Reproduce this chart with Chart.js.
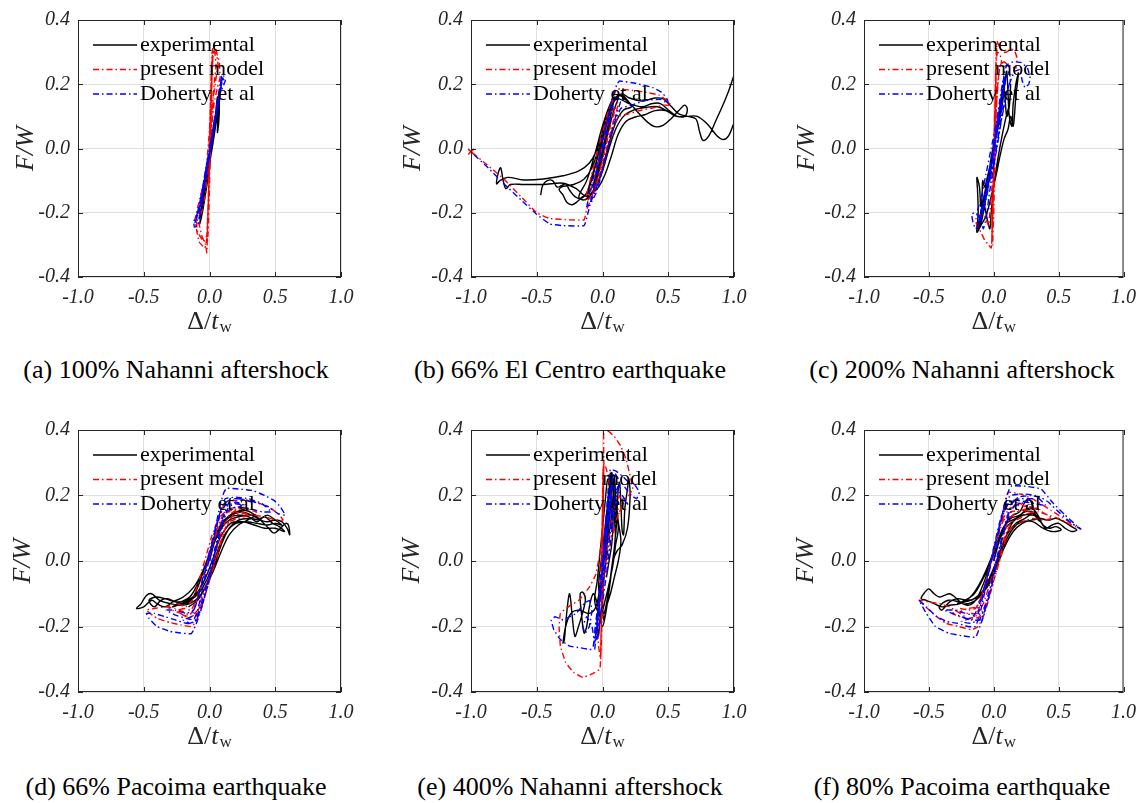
<!DOCTYPE html>
<html lang="en">
<head>
<meta charset="UTF-8">
<title>Hysteresis comparison</title>
<script src="https://cdn.jsdelivr.net/npm/chart.js"></script>
<style>
  body { margin: 0; background: #fff; width: 1145px; height: 803px; position: relative; overflow: hidden; }
  canvas { position: absolute; }
  .cap { position: absolute; width: 420px; text-align: center; font-family: "Liberation Serif", serif; font-size: 26px; line-height: 30px; color: #000; white-space: nowrap; }
</style>
</head>
<body>
<canvas id="c0" width="380" height="345" style="left:0;top:0"></canvas>
<canvas id="c1" width="380" height="345" style="left:380px;top:0"></canvas>
<canvas id="c2" width="385" height="345" style="left:760px;top:0"></canvas>
<canvas id="c3" width="380" height="360" style="left:0;top:410px"></canvas>
<canvas id="c4" width="380" height="360" style="left:380px;top:410px"></canvas>
<canvas id="c5" width="385" height="360" style="left:760px;top:410px"></canvas>
<div id="captions"></div>
<script>
// ---- data (x = Δ/t_w, y = F/W) ----
const seriesNames = ['experimental', 'present model', 'Doherty et al'];
const captions = ['(a) 100% Nahanni aftershock', '(b) 66% El Centro earthquake', '(c) 200% Nahanni aftershock',
                  '(d) 66% Pacoima earthquake', '(e) 400% Nahanni aftershock', '(f) 80% Pacoima earthquake'];
const xTicks = [-1.0, -0.5, 0.0, 0.5, 1.0];
const yTicks = [-0.4, -0.2, 0.0, 0.2, 0.4];

// (a) 100% Nahanni
const expA = [[0,-0.03],[0.03,0.05],[0.055,0.12],[0.065,0.15],[0.06,0.1],[0.04,0.06],[0.01,-0.01],[-0.02,-0.09],[-0.045,-0.15],[-0.06,-0.19],[-0.07,-0.22],[-0.065,-0.2],[-0.04,-0.13],[-0.01,-0.05],[0.02,0.03],[0.045,0.1],[0.06,0.16],[0.065,0.12],[0.06,0.05],[0.068,0.09],[0.075,0.15],[0.08,0.17],[0.07,0.13],[0.05,0.08],[0.02,0.0],[-0.01,-0.07],[-0.04,-0.15],[-0.06,-0.2],[-0.075,-0.235],[-0.06,-0.21],[-0.03,-0.12],[0.0,-0.04],[0.03,0.05],[0.05,0.11],[0.07,0.16],[0.06,0.13],[0.03,0.07],
  [0.0,-0.06],[-0.03,-0.14],[-0.05,-0.19],[-0.065,-0.22],[-0.05,-0.17],[-0.02,-0.09],[0.01,-0.01],[0.04,0.07],[0.06,0.13],[0.07,0.165],[0.075,0.13],[0.07,0.08],[0.06,0.05],[0.065,0.1],[0.07,0.14],[0.05,0.1],[0.02,0.02],[-0.01,-0.06],[-0.04,-0.14],[-0.06,-0.2],[-0.07,-0.21],[-0.05,-0.15],[-0.02,-0.07],[0.01,0.01],[0.04,0.09],[0.065,0.155]];
const presA = [[0,0],[0.005,0.1],[0.012,0.22],[0.02,0.3],[0.03,0.32],[0.045,0.315],[0.06,0.29],[0.075,0.27],[0.08,0.22],[0.06,0.19],[0.035,0.14],[0.015,0.06],[0.0,-0.06],[-0.01,-0.18],[-0.02,-0.28],[-0.035,-0.31],[-0.06,-0.3],[-0.08,-0.29],[-0.1,-0.25],[-0.11,-0.22],[-0.1,-0.2],[-0.07,-0.15],[-0.04,-0.1],[-0.02,-0.04],[0.0,0.06],[0.01,0.18],[0.02,0.27],[0.025,0.31],[0.04,0.3],[0.05,0.26],[0.04,0.22],[0.02,0.12],[0.005,0.0],[-0.005,-0.12],[-0.015,-0.25],[-0.02,-0.325],[-0.03,-0.3],[-0.06,-0.27],[-0.08,-0.23],[-0.06,-0.2],[-0.03,-0.14],[-0.01,-0.05],[0.005,0.08],[0.015,0.2],[0.025,0.28],
  [0.02,0.26],[0.015,0.15],[0.005,0.02],[-0.005,-0.1],[-0.012,-0.22],[-0.018,-0.3],[-0.01,-0.26],[0.0,-0.12],[0.008,0.02],[0.015,0.15],[0.022,0.26],[0.028,0.3],[0.02,0.24],[0.01,0.1],[0.0,-0.04],[-0.01,-0.16],[-0.02,-0.27],[-0.045,-0.29],[-0.09,-0.26],[-0.1,-0.22],[-0.07,-0.18],[-0.03,-0.1],[-0.005,0.0],[0.01,0.13],[0.02,0.24],[0.03,0.3],[0.05,0.3],[0.065,0.26],[0.05,0.22],[0.03,0.16],[0.01,0.05]];
const dohA = [[0,0],[0.03,0.07],[0.06,0.15],[0.085,0.21],[0.095,0.23],[0.11,0.225],[0.12,0.21],[0.105,0.195],[0.08,0.17],[0.04,0.08],[0.0,-0.01],[-0.04,-0.1],[-0.08,-0.18],[-0.105,-0.22],[-0.12,-0.225],[-0.115,-0.245],[-0.09,-0.24],[-0.07,-0.2],[-0.04,-0.12],[-0.01,-0.04],[0.03,0.06],[0.06,0.14],[0.08,0.19],[0.09,0.22],[0.1,0.215],[0.08,0.18],[0.05,0.11],[0.01,0.01],[-0.03,-0.08],[-0.07,-0.17],[-0.1,-0.22],[-0.085,-0.225],[-0.05,-0.14],[-0.01,-0.05],[0.03,0.05],[0.07,0.16],
  [0.1,0.22],[0.115,0.205],[0.09,0.19],[0.06,0.12],[0.02,0.03],[-0.02,-0.06],[-0.06,-0.15],[-0.09,-0.21],[-0.11,-0.23],[-0.1,-0.215],[-0.07,-0.16],[-0.03,-0.07],[0.01,0.02],[0.05,0.11],[0.08,0.18],[0.095,0.215],[0.07,0.17],[0.04,0.09],[0.0,0.0],[-0.04,-0.09],[-0.08,-0.19],[-0.1,-0.21],[-0.07,-0.18],[-0.03,-0.08],[0.02,0.03],[0.06,0.13],[0.09,0.2]];

// (b) 66% El Centro
const expB = [[-0.47,-0.145],[-0.455,-0.115],[-0.42,-0.1],[-0.38,-0.1],[-0.345,-0.12],[-0.31,-0.115],[-0.28,-0.11],[-0.25,-0.13],[-0.21,-0.15],[-0.16,-0.155],[-0.11,-0.13],[-0.07,-0.08],[-0.03,-0.01],[0.01,0.07],[0.05,0.12],[0.1,0.155],[0.15,0.165],[0.2,0.145],[0.27,0.112],[0.34,0.083],[0.4,0.068],[0.46,0.072],[0.52,0.092],[0.58,0.118],[0.625,0.135],[0.645,0.122],[0.625,0.1],[0.57,0.1],[0.5,0.115],[0.42,0.13],[0.33,0.128],[0.24,0.12],[0.16,0.1],[0.1,0.06],[0.05,0.0],[0.0,-0.07],[-0.05,-0.12],[-0.1,-0.145],[-0.15,-0.15],[-0.19,-0.165],[-0.23,-0.175],[-0.27,-0.168],[-0.3,-0.145],[-0.33,-0.128],[-0.3,-0.118],[-0.22,-0.112],[-0.14,-0.095],[-0.08,-0.06],[-0.03,0.0],[0.02,0.08],[0.06,0.13],[0.1,0.16],[0.15,0.17],[0.2,0.158],[0.3,0.148],[0.4,0.157],[0.46,0.155],[0.52,0.132],[0.58,0.108],[0.65,0.1],[0.71,0.092],[0.74,0.05],[0.765,0.025],[0.81,0.04],[0.86,0.085],[0.91,0.13],[0.96,0.18],[1.0,0.228], null,
  [1.0,0.08],[0.96,0.04],[0.92,0.028],[0.87,0.04],[0.8,0.075],[0.72,0.1],[0.64,0.1],[0.56,0.1],[0.48,0.118],[0.4,0.118],[0.32,0.105],[0.25,0.098],[0.18,0.085],[0.12,0.045],[0.07,-0.02],[0.02,-0.08],[-0.03,-0.12],[-0.08,-0.14],[-0.13,-0.148],[-0.2,-0.125],[-0.3,-0.108],[-0.45,-0.112],[-0.6,-0.112],[-0.7,-0.112],[-0.735,-0.125],[-0.755,-0.1],[-0.775,-0.06],[-0.795,-0.08],[-0.805,-0.11],[-0.78,-0.1],[-0.72,-0.09],[-0.6,-0.098],[-0.45,-0.095],[-0.3,-0.085],[-0.18,-0.07],[-0.1,-0.045],[-0.05,-0.01],[0.0,0.05],[0.04,0.11],[0.08,0.15],[0.13,0.165],[0.18,0.15],[0.22,0.13],[0.16,0.12],[0.1,0.08],[0.04,0.0],[-0.02,-0.09],[-0.08,-0.14],[-0.14,-0.16],[-0.18,-0.15],[-0.12,-0.1],[-0.06,-0.02],[0.0,0.07],[0.05,0.13],[0.09,0.16],[0.06,0.1],[0.01,0.0],[-0.05,-0.09],[-0.11,-0.14],[-0.07,-0.08],[-0.02,0.0],[0.03,0.08],[0.08,0.14],[0.03,0.05],[-0.02,-0.04],[-0.07,-0.12],
  [-0.03,-0.04],[0.01,0.04],[0.05,0.1],[0.09,0.15],[0.12,0.16],[0.08,0.11],[0.03,0.03],[-0.02,-0.06],[-0.07,-0.13],[-0.12,-0.15],[-0.09,-0.1],[-0.04,-0.03],[0.01,0.05],[0.06,0.12],[0.11,0.155],[0.2,0.14],[0.3,0.13],[0.38,0.14],[0.44,0.14],[0.5,0.12],[0.56,0.1]];
const presB = [[0,0],[0.03,0.08],[0.07,0.15],[0.11,0.185],[0.2,0.182],[0.32,0.176],[0.43,0.166],[0.49,0.15],[0.52,0.135],[0.46,0.135],[0.38,0.126],[0.3,0.12],[0.2,0.108],[0.12,0.1],[0.07,0.05],[0.02,-0.03],[-0.03,-0.1],[-0.08,-0.15],[-0.13,-0.16],[-0.1,-0.11],[-0.05,-0.03],[0.0,0.05],[0.04,0.11],[0.08,0.15],[0.12,0.14],[0.08,0.08],[0.03,0.0],[-0.02,-0.08],[-0.07,-0.14],[-0.11,-0.16],[-0.08,-0.12],[-0.03,-0.04],[0.02,0.04],[0.06,0.11],[0.1,0.13],[0.06,0.07],[0.01,-0.02],[-0.04,-0.1],[-0.09,-0.16],[-0.12,-0.19],[-0.14,-0.222],[-0.25,-0.222],[-0.4,-0.218],[-0.5,-0.2],[-0.62,-0.15],[-0.75,-0.095],[-0.88,-0.05],[-1.0,-0.01]];
const dohB = [[0,0],[0.03,0.07],[0.07,0.15],[0.11,0.2],[0.13,0.21],[0.25,0.203],[0.38,0.19],[0.45,0.175],[0.49,0.155],[0.5,0.14],[0.44,0.153],[0.33,0.15],[0.22,0.135],[0.14,0.125],[0.09,0.08],[0.04,0.0],[-0.02,-0.09],[-0.07,-0.15],[-0.12,-0.185],[-0.1,-0.14],[-0.05,-0.06],[0.0,0.03],[0.05,0.11],[0.1,0.16],[0.14,0.15],[0.1,0.1],[0.05,0.02],[0.0,-0.07],[-0.05,-0.14],[-0.09,-0.17],[-0.06,-0.1],[-0.01,-0.01],[0.04,0.08],[0.08,0.13],[0.03,0.04],[-0.03,-0.06],[-0.08,-0.15],[-0.11,-0.2],[-0.14,-0.24],[-0.3,-0.24],[-0.4,-0.235],[-0.5,-0.205],[-0.62,-0.16],[-0.75,-0.11],[-0.87,-0.06],[-1.0,-0.01]];
const failB = [[-1.0,-0.01]];

// (c) 200% Nahanni
const expC = [[0,0],[0.04,0.08],[0.07,0.15],[0.09,0.22],[0.1,0.24],[0.11,0.17],[0.12,0.1],[0.14,0.07],[0.15,0.14],[0.17,0.2],[0.19,0.235],[0.17,0.16],[0.15,0.07],[0.13,0.1],[0.11,0.06],[0.08,0.03],[0.05,-0.02],[0.02,-0.08],[-0.02,-0.15],[-0.06,-0.21],[-0.1,-0.24],[-0.13,-0.26],[-0.12,-0.2],[-0.125,-0.13],[-0.13,-0.09],[-0.11,-0.12],[-0.1,-0.18],[-0.09,-0.15],[-0.085,-0.1],[-0.07,-0.12],[-0.05,-0.09],[-0.02,-0.04],[0.01,0.02],[0.04,0.08],[0.06,0.12],[0.08,0.18],[0.09,0.14],[0.1,0.1],[0.12,0.13],[0.13,0.2],[0.12,0.14],[0.09,0.09],[0.05,0.01],[0.02,-0.06],[0.0,-0.12],[-0.02,-0.2],[-0.03,-0.25],[-0.05,-0.22],[-0.08,-0.17],[-0.11,-0.22],[-0.12,-0.25],[-0.08,-0.16],[-0.04,-0.08],[0.0,0.0],[0.03,0.07],[0.06,0.14],[0.08,0.2],
  [0.06,0.16],[0.04,0.1],[0.01,0.02],[-0.02,-0.06],[-0.05,-0.13],[-0.08,-0.19],[-0.1,-0.22],[-0.08,-0.2],[-0.05,-0.12],[-0.02,-0.05],[0.01,0.03],[0.04,0.1],[0.07,0.17],[0.085,0.22],[0.07,0.18],[0.04,0.11],[0.01,0.04],[-0.02,-0.03],[-0.05,-0.11],[-0.08,-0.18],[-0.11,-0.24],[-0.09,-0.22],[-0.06,-0.14],[-0.03,-0.06],[0.0,0.01],[0.03,0.08],[0.06,0.15]];
const presC = [[0,0],[0.008,0.12],[0.015,0.24],[0.02,0.31],[0.025,0.335],[0.04,0.32],[0.07,0.3],[0.1,0.3],[0.13,0.31],[0.16,0.305],[0.18,0.28],[0.17,0.25],[0.14,0.255],[0.11,0.26],[0.08,0.27],[0.05,0.26],[0.03,0.2],[0.015,0.08],[0.0,-0.06],[-0.01,-0.2],[-0.015,-0.29],[-0.02,-0.31],[-0.04,-0.3],[-0.07,-0.285],[-0.1,-0.26],[-0.13,-0.24],[-0.14,-0.22],[-0.11,-0.21],[-0.08,-0.2],[-0.06,-0.22],[-0.04,-0.24],[-0.03,-0.2],[-0.01,-0.1],[0.005,0.05],[0.015,0.2],[0.02,0.28],[0.03,0.3],[0.05,0.29],[0.06,0.27],[0.04,0.24],[0.02,0.12],[0.005,-0.02],[-0.008,-0.16],[-0.015,-0.26],[-0.01,-0.3],[0.0,-0.2],[0.01,-0.02],[0.02,0.17],
  [0.015,0.25],[0.01,0.15],[0.003,0.02],[-0.005,-0.12],[-0.012,-0.24],[-0.016,-0.3],[-0.01,-0.22],[-0.002,-0.08],[0.006,0.06],[0.013,0.19],[0.019,0.29],[0.023,0.32],[0.018,0.22],[0.01,0.08],[0.0,-0.06],[-0.008,-0.2],[-0.014,-0.28],[-0.005,-0.18],[0.004,-0.02],[0.012,0.14],[0.018,0.26]];
const dohC = [[0,0],[0.03,0.08],[0.06,0.17],[0.08,0.23],[0.1,0.26],[0.15,0.27],[0.21,0.268],[0.26,0.25],[0.28,0.22],[0.27,0.2],[0.24,0.19],[0.22,0.21],[0.2,0.245],[0.16,0.24],[0.12,0.2],[0.09,0.16],[0.05,0.07],[0.0,-0.04],[-0.05,-0.13],[-0.09,-0.2],[-0.12,-0.24],[-0.14,-0.25],[-0.16,-0.23],[-0.17,-0.205],[-0.15,-0.2],[-0.12,-0.21],[-0.1,-0.225],[-0.08,-0.25],[-0.06,-0.22],[-0.03,-0.13],[0.01,-0.03],[0.04,0.06],[0.07,0.15],[0.09,0.21],[0.11,0.24],[0.13,0.22],[0.1,0.17],[0.06,0.09],[0.02,-0.01],[-0.03,-0.1],[-0.07,-0.18],[-0.1,-0.22],[-0.13,-0.2],[-0.1,-0.16],[-0.06,-0.08],[-0.02,0.0],[0.02,0.08],[0.05,0.16],[0.07,0.21],
  [0.08,0.22],[0.06,0.16],[0.03,0.07],[0.0,-0.02],[-0.04,-0.11],[-0.08,-0.19],[-0.11,-0.23],[-0.09,-0.2],[-0.05,-0.12],[-0.02,-0.04],[0.02,0.05],[0.05,0.14],[0.08,0.21],[0.1,0.23],[0.08,0.19],[0.05,0.11],[0.01,0.02],[-0.03,-0.08],[-0.07,-0.17],[-0.1,-0.21],[-0.12,-0.23],[-0.09,-0.18],[-0.05,-0.1],[-0.01,-0.01],[0.03,0.09],[0.06,0.17]];

// (d) 66% Pacoima
const expD = [[0,0.0],[0.04,0.06],[0.09,0.11],[0.14,0.135],[0.2,0.15],[0.27,0.155],[0.33,0.145],[0.4,0.12],[0.45,0.1],[0.49,0.085],[0.54,0.1],[0.58,0.115],[0.6,0.11],[0.61,0.08],[0.59,0.1],[0.55,0.12],[0.5,0.125],[0.44,0.12],[0.38,0.125],[0.3,0.13],[0.22,0.125],[0.15,0.1],[0.09,0.05],[0.04,-0.01],[-0.02,-0.07],[-0.08,-0.11],[-0.15,-0.13],[-0.22,-0.135],[-0.3,-0.13],[-0.38,-0.12],[-0.44,-0.1],[-0.48,-0.105],[-0.52,-0.13],[-0.555,-0.145],[-0.5,-0.14],[-0.44,-0.12],[-0.4,-0.13],[-0.34,-0.14],[-0.28,-0.125],[-0.2,-0.11],[-0.12,-0.08],[-0.05,-0.03],[0.02,0.04],[0.08,0.1],[0.14,0.13],[0.22,0.14],[0.3,0.135],[0.36,0.12],[0.42,0.135],[0.48,0.115],[0.53,0.105],[0.57,0.09],[0.5,0.1],[0.42,0.1],[0.34,0.11],[0.25,0.12],[0.16,0.115],[0.08,0.07],[0.02,0.0],[-0.04,-0.06],[-0.1,-0.1],[-0.17,-0.12],[-0.25,-0.125],[-0.32,-0.115],[-0.37,-0.12],[-0.42,-0.14],[-0.46,-0.12],[-0.4,-0.11],[-0.3,-0.12],[-0.2,-0.13],[-0.14,-0.12],[-0.08,-0.07],[-0.02,0.0],[0.04,0.07],[0.1,0.12],[0.17,0.14],[0.25,0.15],[0.32,0.14],[0.38,0.13],[0.44,0.14],[0.5,0.125],[0.55,0.11],
  [0.5,0.115],[0.44,0.11],[0.36,0.115],[0.28,0.12],[0.2,0.115],[0.13,0.09],[0.07,0.04],[0.01,-0.03],[-0.05,-0.08],[-0.11,-0.11],[-0.18,-0.125],[-0.24,-0.135],[-0.28,-0.14],[-0.22,-0.125],[-0.15,-0.11],[-0.09,-0.07],[-0.03,-0.01],[0.03,0.05],[0.09,0.1],[0.15,0.125],[0.22,0.135],[0.29,0.14],[0.35,0.14],[0.29,0.125],[0.22,0.11],[0.15,0.08],[0.09,0.03],[0.03,-0.03],[-0.03,-0.08],[-0.09,-0.12],[-0.16,-0.14]];
const presD = [[0,0],[0.04,0.08],[0.08,0.14],[0.12,0.18],[0.2,0.185],[0.33,0.183],[0.45,0.165],[0.52,0.145],[0.56,0.125],[0.5,0.125],[0.42,0.135],[0.34,0.14],[0.26,0.145],[0.18,0.14],[0.12,0.1],[0.06,0.02],[0.0,-0.06],[-0.06,-0.14],[-0.11,-0.19],[-0.14,-0.2],[-0.22,-0.195],[-0.3,-0.188],[-0.4,-0.175],[-0.48,-0.15],[-0.42,-0.145],[-0.34,-0.14],[-0.26,-0.145],[-0.2,-0.155],[-0.15,-0.165],[-0.11,-0.14],[-0.06,-0.07],[-0.01,0.0],[0.04,0.07],[0.09,0.12],[0.14,0.15],[0.22,0.16],[0.3,0.155],[0.36,0.15],[0.3,0.14],[0.22,0.13],[0.15,0.12],[0.1,0.08],[0.05,0.01],[0.0,-0.06],[-0.05,-0.12],[-0.1,-0.16],[-0.16,-0.175],[-0.22,-0.16],[-0.28,-0.15],[-0.32,-0.14],[-0.25,-0.13],[-0.18,-0.14],[-0.13,-0.12],[-0.08,-0.06],[-0.03,0.01],[0.02,0.08],[0.07,0.13],[0.12,0.15],[0.2,0.15],[0.28,0.14],
  [0.22,0.16],[0.15,0.14],[0.1,0.1],[0.05,0.03],[0.0,-0.04],[-0.05,-0.1],[-0.09,-0.15],[-0.14,-0.17],[-0.2,-0.165],[-0.24,-0.15],[-0.19,-0.145],[-0.14,-0.15],[-0.1,-0.12],[-0.05,-0.05],[0.0,0.02],[0.05,0.09],[0.1,0.14],[0.16,0.16],[0.24,0.165],[0.3,0.16]];
const dohD = [[0,0],[0.04,0.09],[0.08,0.17],[0.11,0.21],[0.13,0.222],[0.22,0.22],[0.33,0.215],[0.42,0.2],[0.49,0.185],[0.54,0.165],[0.575,0.14],[0.52,0.145],[0.45,0.165],[0.38,0.175],[0.3,0.185],[0.22,0.19],[0.15,0.18],[0.1,0.13],[0.05,0.04],[0.0,-0.05],[-0.05,-0.13],[-0.09,-0.18],[-0.12,-0.21],[-0.14,-0.222],[-0.22,-0.22],[-0.3,-0.215],[-0.4,-0.2],[-0.46,-0.175],[-0.48,-0.16],[-0.42,-0.16],[-0.34,-0.17],[-0.26,-0.18],[-0.18,-0.19],[-0.13,-0.19],[-0.09,-0.15],[-0.05,-0.08],[0.0,0.01],[0.05,0.1],[0.09,0.16],[0.12,0.19],[0.2,0.195],[0.3,0.19],[0.4,0.175],[0.47,0.15],[0.4,0.15],[0.3,0.16],[0.2,0.165],[0.13,0.15],[0.08,0.1],[0.03,0.02],[-0.02,-0.07],[-0.07,-0.14],[-0.11,-0.18],[-0.18,-0.175],[-0.26,-0.165],[-0.33,-0.15],[-0.26,-0.15],[-0.18,-0.16],[-0.12,-0.15],[-0.07,-0.09],[-0.02,-0.01],[0.03,0.07],[0.08,0.14],[0.12,0.17],[0.2,0.175],[0.26,0.17],
  [0.2,0.18],[0.14,0.16],[0.09,0.1],[0.04,0.02],[-0.01,-0.07],[-0.06,-0.14],[-0.1,-0.18],[-0.15,-0.19],[-0.2,-0.18],[-0.14,-0.17],[-0.1,-0.13],[-0.05,-0.05],[0.0,0.03],[0.05,0.11],[0.1,0.17],[0.16,0.19],[0.24,0.19],[0.32,0.18]];

// (e) 400% Nahanni
const expE = [[0,0],[0.02,0.08],[0.04,0.16],[0.06,0.23],[0.07,0.26],[0.08,0.22],[0.09,0.14],[0.1,0.08],[0.11,0.15],[0.12,0.22],[0.13,0.24],[0.14,0.17],[0.15,0.09],[0.16,0.08],[0.17,0.16],[0.19,0.22],[0.2,0.25],[0.21,0.2],[0.19,0.1],[0.15,0.05],[0.11,0.03],[0.08,0.0],[0.06,-0.06],[0.04,-0.12],[0.02,-0.17],[0.0,-0.2],[-0.02,-0.17],[-0.04,-0.13],[-0.07,-0.1],[-0.1,-0.14],[-0.12,-0.2],[-0.14,-0.22],[-0.16,-0.16],[-0.17,-0.1],[-0.15,-0.095],[-0.13,-0.12],[-0.19,-0.21],[-0.21,-0.23],[-0.23,-0.17],[-0.25,-0.1],[-0.27,-0.15],[-0.29,-0.24],[-0.3,-0.25],[-0.28,-0.2],[-0.24,-0.16],[-0.18,-0.15],[-0.1,-0.16],[-0.05,-0.14],[-0.02,-0.08],[0.0,-0.02],[0.02,0.05],[0.04,0.12],[0.05,0.2],[0.06,0.27],[0.05,0.2],[0.04,0.1],[0.03,0.02],[0.01,-0.06],[0.0,-0.12],[-0.02,-0.18],[-0.03,-0.23],[-0.04,-0.18],[-0.02,-0.1],[0.0,-0.03],[0.03,0.04],[0.06,0.11],[0.08,0.2],[0.09,0.26],[0.1,0.2],[0.12,0.12],[0.14,0.06],[0.12,0.0],[0.09,-0.05],[0.06,-0.1],[0.03,-0.14],
  [0.01,-0.18],[0.0,-0.1],[0.02,-0.02],[0.04,0.08],[0.06,0.16],[0.07,0.22],[0.08,0.25],[0.09,0.18],[0.1,0.1],[0.09,0.04],[0.07,-0.02],[0.05,-0.08],[0.03,-0.13],[0.01,-0.16],[-0.01,-0.12],[-0.03,-0.08],[-0.01,0.0],[0.01,0.07],[0.03,0.14],[0.05,0.22],[0.07,0.27],[0.08,0.23],[0.1,0.16],[0.12,0.1],[0.1,0.05],[0.08,-0.01],[0.05,-0.07],[0.02,-0.12],[-0.01,-0.16],[-0.04,-0.15],[-0.06,-0.12],[-0.04,-0.06],[-0.02,0.02],[0.0,0.1],[0.02,0.18],[0.04,0.25],[0.06,0.2],[0.08,0.12],[0.07,0.05],[0.05,0.0],[0.03,-0.05]];
const presE = [[0,0],[0.005,0.15],[0.01,0.3],[0.01,0.4],[0.05,0.395],[0.09,0.38],[0.14,0.35],[0.18,0.31],[0.21,0.26],[0.23,0.22],[0.2,0.2],[0.15,0.17],[0.1,0.12],[0.05,0.03],[0.0,-0.08],[-0.01,-0.2],[-0.015,-0.3],[-0.02,-0.33],[-0.08,-0.345],[-0.15,-0.355],[-0.22,-0.34],[-0.28,-0.31],[-0.32,-0.26],[-0.33,-0.2],[-0.32,-0.16],[-0.26,-0.14],[-0.18,-0.12],[-0.1,-0.08],[-0.05,-0.04],[-0.01,0.05],[0.0,0.15],[0.005,0.26],[0.01,0.3],[0.03,0.28],[0.06,0.22],[0.08,0.17],[0.1,0.15],[0.13,0.145],[0.15,0.17],[0.13,0.2],[0.08,0.15],[0.04,0.05],[0.01,-0.05],[-0.005,-0.18],[-0.01,-0.27],[-0.015,-0.3],[-0.03,-0.26],[-0.04,-0.2],[-0.02,-0.1],[-0.005,0.02],[0.0,0.14],[0.005,0.24],[0.0,0.1],[-0.005,-0.05],[-0.01,-0.2],[-0.012,-0.28],
  [0.0,0.2],[0.004,0.28],[0.002,0.15],[-0.004,0.0],[-0.008,-0.14],[-0.012,-0.26],[-0.015,-0.3],[-0.008,-0.18],[-0.002,-0.04],[0.003,0.1],[0.007,0.22],[0.01,0.29],[0.006,0.18],[0.0,0.04],[-0.006,-0.1],[-0.01,-0.22],[-0.014,-0.29]];
const dohE = [[0,0],[0.02,0.1],[0.04,0.2],[0.05,0.26],[0.06,0.28],[0.1,0.275],[0.15,0.26],[0.2,0.24],[0.25,0.23],[0.28,0.21],[0.26,0.19],[0.22,0.2],[0.18,0.22],[0.14,0.24],[0.1,0.2],[0.07,0.12],[0.04,0.03],[0.0,-0.07],[-0.03,-0.16],[-0.05,-0.23],[-0.06,-0.27],[-0.1,-0.27],[-0.17,-0.265],[-0.25,-0.26],[-0.32,-0.24],[-0.37,-0.21],[-0.39,-0.18],[-0.36,-0.17],[-0.3,-0.18],[-0.25,-0.17],[-0.2,-0.16],[-0.14,-0.13],[-0.1,-0.12],[-0.08,-0.15],[-0.1,-0.2],[-0.13,-0.22],[-0.15,-0.2],[-0.12,-0.17],[-0.08,-0.2],[-0.06,-0.25],[-0.04,-0.2],[-0.02,-0.1],[0.01,0.0],[0.03,0.1],[0.05,0.18],[0.07,0.24],[0.09,0.27],[0.12,0.25],[0.1,0.18],[0.07,0.09],[0.04,-0.01],[0.01,-0.1],[-0.02,-0.18],[-0.04,-0.24],[-0.06,-0.22],[-0.03,-0.12],[0.0,-0.03],[0.03,0.07],[0.05,0.16],[0.07,0.23],[0.1,0.22],[0.15,0.2],[0.2,0.17],[0.15,0.19],[0.1,0.17],[0.07,0.1],
  [0.07,0.2],[0.05,0.14],[0.03,0.06],[0.0,-0.03],[-0.02,-0.11],[-0.04,-0.19],[-0.05,-0.24],[-0.04,-0.21],[-0.02,-0.13],[0.0,-0.05],[0.02,0.04],[0.04,0.13],[0.06,0.21],[0.08,0.26],[0.07,0.21],[0.05,0.13],[0.02,0.03],[0.0,-0.06],[-0.03,-0.15],[-0.05,-0.22],[-0.07,-0.26],[-0.05,-0.2],[-0.03,-0.12],[-0.01,-0.03],[0.02,0.07],[0.04,0.16],[0.06,0.24]];

// (f) 80% Pacoima
const expF = [[0,0],[0.05,0.07],[0.1,0.12],[0.15,0.14],[0.2,0.15],[0.24,0.18],[0.27,0.19],[0.3,0.17],[0.33,0.13],[0.36,0.12],[0.4,0.1],[0.45,0.11],[0.5,0.115],[0.55,0.1],[0.6,0.09],[0.64,0.095],[0.6,0.105],[0.54,0.12],[0.48,0.13],[0.42,0.125],[0.36,0.13],[0.3,0.14],[0.22,0.14],[0.15,0.12],[0.09,0.07],[0.03,0.0],[-0.03,-0.06],[-0.09,-0.1],[-0.16,-0.125],[-0.24,-0.13],[-0.3,-0.11],[-0.34,-0.1],[-0.38,-0.105],[-0.42,-0.11],[-0.46,-0.1],[-0.5,-0.085],[-0.53,-0.095],[-0.56,-0.115],[-0.52,-0.12],[-0.46,-0.13],[-0.4,-0.14],[-0.34,-0.135],[-0.26,-0.13],[-0.18,-0.11],[-0.11,-0.07],[-0.05,-0.02],[0.01,0.04],[0.07,0.1],[0.13,0.13],[0.2,0.14],[0.26,0.16],[0.3,0.16],[0.34,0.14],[0.38,0.11],[0.43,0.1],[0.48,0.105],[0.52,0.095],[0.45,0.09],[0.38,0.1],[0.3,0.12],[0.22,0.12],[0.15,0.1],[0.08,0.05],[0.02,-0.02],[-0.05,-0.08],[-0.12,-0.11],[-0.2,-0.12],[-0.28,-0.115],[-0.34,-0.125],[-0.4,-0.15],[-0.42,-0.14],[-0.35,-0.12],[-0.27,-0.125],[-0.2,-0.135],[-0.14,-0.12],[-0.08,-0.07],[-0.02,0.0],[0.04,0.07],[0.1,0.115],[0.17,0.13],[0.24,0.15],[0.3,0.15],
  [0.24,0.13],[0.17,0.115],[0.1,0.08],[0.04,0.02],[-0.02,-0.04],[-0.08,-0.09],[-0.15,-0.115],[-0.22,-0.125],[-0.28,-0.13],[-0.22,-0.12],[-0.15,-0.1],[-0.09,-0.06],[-0.03,-0.01],[0.03,0.05],[0.09,0.1],[0.16,0.125],[0.23,0.14],[0.3,0.145],[0.35,0.13],[0.29,0.125],[0.22,0.115],[0.15,0.09],[0.08,0.04],[0.02,-0.02],[-0.04,-0.07],[-0.1,-0.1],[-0.17,-0.12]];
const presF = [[0,0],[0.04,0.09],[0.08,0.17],[0.11,0.21],[0.2,0.205],[0.3,0.19],[0.44,0.155],[0.56,0.125],[0.67,0.098],[0.6,0.11],[0.5,0.13],[0.42,0.14],[0.34,0.15],[0.26,0.145],[0.2,0.13],[0.14,0.12],[0.09,0.08],[0.04,0.0],[-0.02,-0.09],[-0.07,-0.16],[-0.12,-0.2],[-0.17,-0.21],[-0.27,-0.2],[-0.37,-0.19],[-0.47,-0.16],[-0.575,-0.12],[-0.5,-0.125],[-0.42,-0.13],[-0.34,-0.14],[-0.26,-0.16],[-0.2,-0.175],[-0.14,-0.17],[-0.1,-0.13],[-0.05,-0.05],[0.0,0.03],[0.05,0.11],[0.1,0.17],[0.15,0.18],[0.25,0.17],[0.35,0.155],[0.45,0.13],[0.38,0.125],[0.3,0.13],[0.22,0.12],[0.16,0.11],[0.11,0.09],[0.06,0.02],[0.0,-0.06],[-0.06,-0.13],[-0.11,-0.17],[-0.18,-0.18],[-0.26,-0.17],[-0.32,-0.16],[-0.26,-0.145],[-0.2,-0.15],[-0.14,-0.145],[-0.09,-0.1],[-0.04,-0.03],[0.01,0.05],[0.06,0.12],[0.12,0.16],[0.2,0.17],[0.28,0.165],[0.34,0.16],
  [0.26,0.16],[0.18,0.15],[0.12,0.13],[0.07,0.07],[0.02,0.0],[-0.03,-0.07],[-0.08,-0.13],[-0.13,-0.16],[-0.2,-0.16],[-0.26,-0.155],[-0.2,-0.145],[-0.13,-0.14],[-0.08,-0.09],[-0.03,-0.02],[0.02,0.06],[0.07,0.12],[0.13,0.15],[0.22,0.155],[0.3,0.15]];
const dohF = [[0,0],[0.04,0.09],[0.08,0.17],[0.12,0.22],[0.14,0.23],[0.25,0.228],[0.365,0.22],[0.45,0.18],[0.55,0.14],[0.64,0.108],[0.67,0.098],[0.6,0.115],[0.5,0.15],[0.42,0.18],[0.36,0.195],[0.28,0.2],[0.19,0.195],[0.13,0.17],[0.08,0.1],[0.03,0.01],[-0.03,-0.09],[-0.08,-0.17],[-0.12,-0.215],[-0.14,-0.233],[-0.25,-0.228],[-0.35,-0.22],[-0.45,-0.2],[-0.52,-0.16],[-0.575,-0.12],[-0.52,-0.14],[-0.44,-0.17],[-0.36,-0.185],[-0.28,-0.19],[-0.2,-0.2],[-0.14,-0.2],[-0.1,-0.15],[-0.05,-0.06],[0.0,0.03],[0.05,0.12],[0.09,0.18],[0.13,0.2],[0.22,0.205],[0.32,0.2],[0.4,0.17],[0.32,0.175],[0.24,0.18],[0.16,0.17],[0.1,0.12],[0.05,0.04],[0.0,-0.05],[-0.05,-0.13],[-0.1,-0.18],[-0.17,-0.18],[-0.25,-0.17],[-0.32,-0.16],[-0.38,-0.15],[-0.3,-0.15],[-0.22,-0.16],[-0.15,-0.165],[-0.1,-0.12],[-0.04,-0.03],[0.01,0.06],[0.06,0.14],[0.11,0.18],[0.18,0.185],[0.26,0.18],
  [0.2,0.175],[0.13,0.16],[0.08,0.1],[0.03,0.02],[-0.02,-0.07],[-0.07,-0.14],[-0.11,-0.18],[-0.18,-0.19],[-0.25,-0.185],[-0.18,-0.175],[-0.12,-0.16],[-0.08,-0.1],[-0.03,-0.02],[0.02,0.07],[0.07,0.14],[0.12,0.18],[0.2,0.19],[0.3,0.19]];

const panelSeries = [[expA, presA, dohA], [expB, presB, dohB], [expC, presC, dohC],
                     [expD, presD, dohD], [expE, presE, dohE], [expF, presF, dohF]];

// ---- layout (pixels in the page) ----
const boxes = [
  { left: 0,   top: 0,   w: 380, h: 345, plot: [78, 15, 341, 277],   titleX: 26 },
  { left: 380, top: 0,   w: 380, h: 345, plot: [471, 15, 734, 277],  titleX: 413 },
  { left: 760, top: 0,   w: 385, h: 345, plot: [864, 15, 1127, 277], titleX: 807 },
  { left: 0,   top: 410, w: 380, h: 360, plot: [78, 429, 341, 692],  titleX: 23 },
  { left: 380, top: 410, w: 380, h: 360, plot: [471, 429, 734, 692], titleX: 412 },
  { left: 760, top: 410, w: 385, h: 360, plot: [864, 429, 1127, 692], titleX: 806 }
];
const capCenters = [[176, 370], [570, 370], [962, 370], [176, 787], [570, 787], [962, 787]];

const SERIF = '"Liberation Serif", "Times New Roman", serif';
const AXIS_COLOR = '#262626';
const styles = [
  { color: '#000000', dash: [], tension: 0.35 },
  { color: '#ff0000', dash: [6, 3, 1.5, 3], tension: 0.1 },
  { color: '#0000ff', dash: [6, 3, 1.5, 3], tension: 0.1 }
];

const pts = arr => arr.map(p => p ? { x: p[0], y: p[1] } : { x: null, y: null });

// box round the axes + inward tick marks
const framePlugin = {
  id: 'frame',
  afterDraw(chart) {
    const { ctx, chartArea: a, scales } = chart;
    ctx.save();
    ctx.strokeStyle = AXIS_COLOR;
    ctx.lineWidth = 1;
    ctx.strokeRect(a.left + 0.5, a.top + 0.5, a.width - 1, a.height - 1);
    ctx.beginPath();
    xTicks.forEach(v => {
      const px = Math.round(scales.x.getPixelForValue(v)) + 0.5;
      ctx.moveTo(px, a.bottom); ctx.lineTo(px, a.bottom - 5);
      ctx.moveTo(px, a.top); ctx.lineTo(px, a.top + 5);
    });
    yTicks.forEach(v => {
      const py = Math.round(scales.y.getPixelForValue(v)) + 0.5;
      ctx.moveTo(a.left, py); ctx.lineTo(a.left + 5, py);
      ctx.moveTo(a.right, py); ctx.lineTo(a.right - 5, py);
    });
    ctx.stroke();
    ctx.restore();
  }
};

// legend in the upper left corner, no box
const legendPlugin = {
  id: 'innerLegend',
  afterDatasetsDraw(chart) {
    const { ctx, chartArea: a } = chart;
    const rows = [25, 49.5, 74];
    ctx.save();
    seriesNames.forEach((name, i) => {
      const y = a.top + rows[i];
      ctx.strokeStyle = styles[i].color;
      ctx.lineWidth = 1.4;
      ctx.setLineDash(styles[i].dash);
      ctx.beginPath();
      ctx.moveTo(a.left + 15, y); ctx.lineTo(a.left + 59, y);
      ctx.stroke();
      ctx.setLineDash([]);
      ctx.fillStyle = '#000';
      ctx.font = '22px ' + SERIF;
      ctx.textBaseline = 'middle';
      ctx.textAlign = 'left';
      ctx.fillText(name, a.left + 62, y);
    });
    ctx.restore();
  }
};

// x axis title Δ/t_w with a subscript
const xTitlePlugin = {
  id: 'xTitle',
  afterDraw(chart) {
    const { ctx, chartArea: a } = chart;
    const cx = (a.left + a.right) / 2, cy = a.bottom + 45;
    const f1 = '26px ' + SERIF, f2 = 'italic 26px ' + SERIF, f3 = '17px ' + SERIF;
    ctx.save();
    ctx.fillStyle = AXIS_COLOR;
    ctx.textBaseline = 'middle';
    ctx.textAlign = 'left';
    ctx.font = f1; const w1 = ctx.measureText('Δ/').width;
    ctx.font = f2; const w2 = ctx.measureText('t').width;
    ctx.font = f3; const w3 = ctx.measureText('w').width;
    let x = cx - (w1 + w2 + w3 + 1) / 2;
    ctx.font = f1; ctx.fillText('Δ/', x, cy); x += w1;
    ctx.font = f2; ctx.fillText('t', x, cy); x += w2 + 1;
    ctx.font = f3; ctx.fillText('w', x, cy + 6);
    ctx.restore();
  }
};

boxes.forEach((b, k) => {
  const [pl, pt, pr, pb] = b.plot;
  const datasets = panelSeries[k].map((s, i) => ({
    label: seriesNames[i],
    data: pts(s),
    showLine: true,
    pointRadius: 0,
    borderWidth: 1.4,
    borderColor: styles[i].color,
    borderDash: styles[i].dash,
    tension: styles[i].tension,
    fill: false,
    order: 3 - i
  }));
  if (k === 1) {
    datasets.push({
      label: 'failure', data: pts(failB), showLine: false,
      pointStyle: 'crossRot', pointRadius: 4, borderWidth: 1.5,
      borderColor: '#ff0000', clip: false, order: 0
    });
  }
  new Chart(document.getElementById('c' + k), {
    type: 'scatter',
    data: { datasets },
    options: {
      responsive: false,
      animation: false,
      events: [],
      layout: { padding: { left: 0, top: pt - b.top, right: b.left + b.w - pr, bottom: 0 } },
      plugins: { legend: { display: false }, tooltip: { enabled: false } },
      scales: {
        x: {
          type: 'linear', min: -1, max: 1,
          afterBuildTicks: s => { s.ticks = xTicks.map(v => ({ value: v })); },
          afterFit: s => { s.height = b.top + b.h - pb; },
          grid: { color: '#dfdfdf', drawTicks: false },
          border: { display: false },
          ticks: { padding: 9, maxRotation: 0, autoSkip: false, color: AXIS_COLOR,
                   font: { family: SERIF, size: 20, style: 'italic' },
                   callback: v => v.toFixed(1) }
        },
        y: {
          type: 'linear', min: -0.4, max: 0.4,
          afterBuildTicks: s => { s.ticks = yTicks.map(v => ({ value: v })); },
          afterFit: s => { s.width = pl - b.left; },
          grid: { color: '#dfdfdf', drawTicks: false },
          border: { display: false },
          title: { display: true, text: 'F/W', color: AXIS_COLOR,
                   font: { family: SERIF, size: 26, style: 'italic' },
                   padding: { top: b.titleX - b.left - 15.6, bottom: 0 } },
          ticks: { padding: 8, autoSkip: false, color: AXIS_COLOR,
                   font: { family: SERIF, size: 20, style: 'italic' },
                   callback: v => v.toFixed(1) }
        }
      }
    },
    plugins: [framePlugin, legendPlugin, xTitlePlugin]
  });
});

const capBox = document.getElementById('captions');
captions.forEach((t, k) => {
  const d = document.createElement('div');
  d.className = 'cap';
  d.textContent = t;
  d.style.left = (capCenters[k][0] - 210) + 'px';
  d.style.top = (capCenters[k][1] - 15) + 'px';
  capBox.appendChild(d);
});
</script>
</body>
</html>
